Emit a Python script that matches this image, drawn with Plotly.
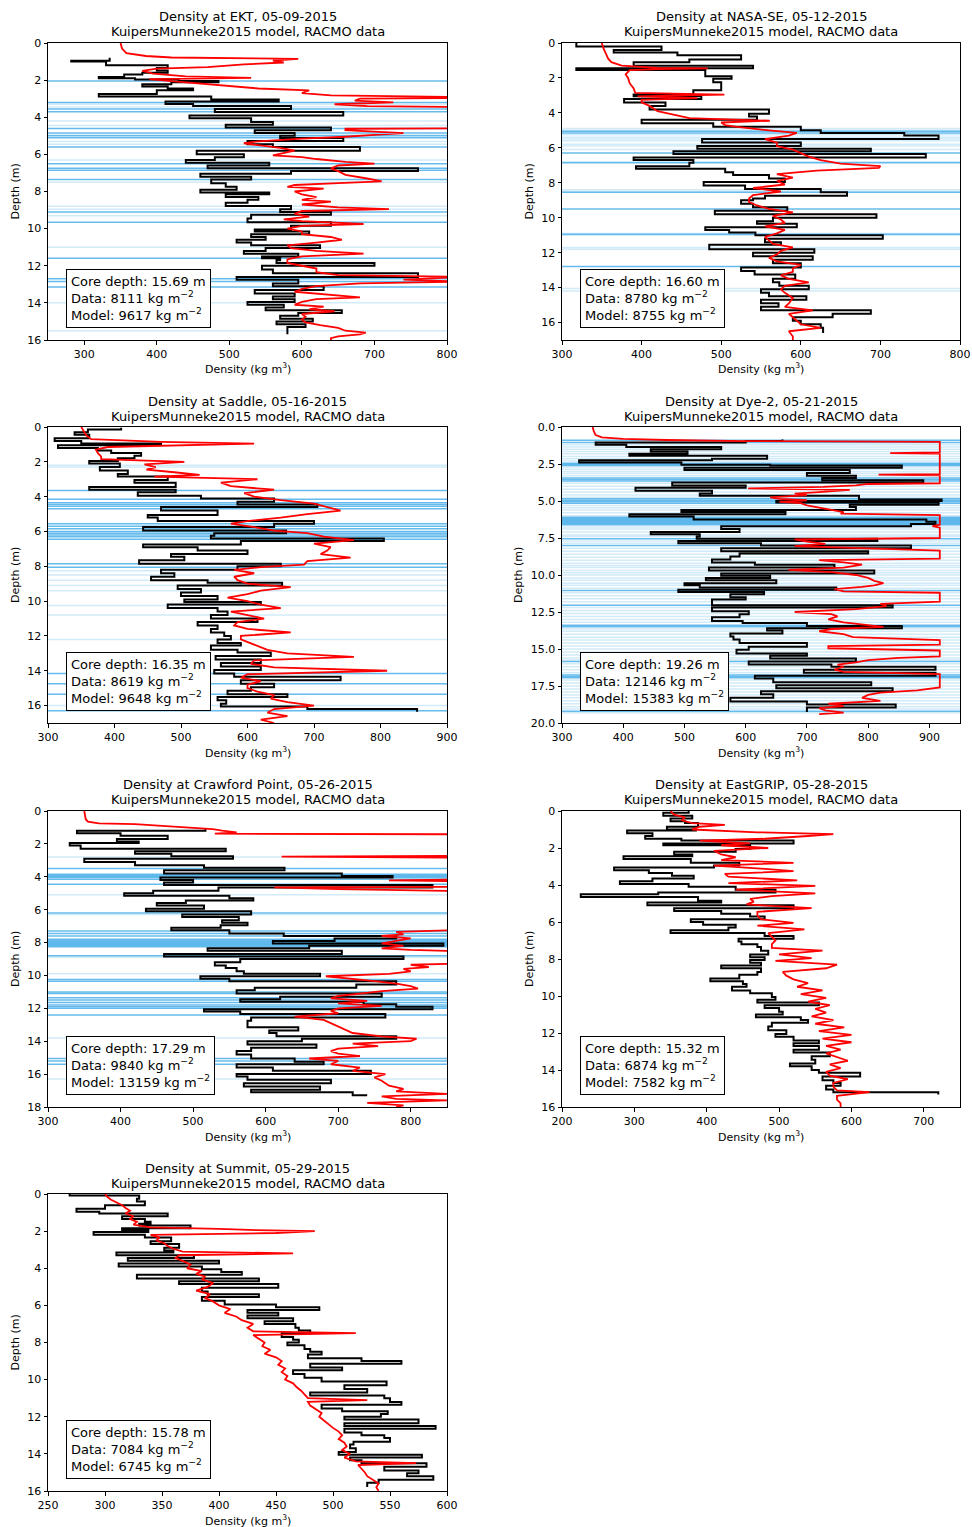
import plotly.graph_objects as go

# ---------------- DATA (depth m, density kg m^-3) ----------------
ekt_data = [(0.80,335),(0.95,282),(1.00,330),(1.10,330),(1.20,415),(1.35,400),(1.48,415),(1.60,380),(1.70,355),(1.83,320),(1.90,370),(1.97,430),(2.05,485),(2.12,420),(2.22,380),(2.35,415),(2.45,450),(2.55,400),(2.75,320),(2.88,475),(3.05,568),(3.15,412),(3.28,450),(3.40,585),(3.55,480),(3.72,657),(3.90,445),(4.05,530),(4.25,560),(4.40,495),(4.55,640),(4.70,535),(4.85,590),(5.00,570),(5.12,657),(5.28,525),(5.45,560),(5.60,680),(5.80,455),(6.00,520),(6.15,480),(6.30,440),(6.45,555),(6.60,470),(6.75,760),(6.90,585),(7.05,460),(7.20,530),(7.35,475),(7.55,495),(7.75,510),(7.90,460),(8.05,555),(8.15,495),(8.30,540),(8.45,525),(8.60,495),(8.78,585),(8.95,570),(9.10,640),(9.25,530),(9.45,525),(9.65,640),(9.85,585),(10.05,535),(10.15,610),(10.30,530),(10.45,550),(10.60,510),(10.75,530),(10.90,625),(11.05,550),(11.20,520),(11.35,595),(11.50,545),(11.60,570),(11.70,565),(11.85,700),(12.00,545),(12.20,560),(12.40,760),(12.60,510),(12.75,595),(12.95,560),(13.10,630),(13.30,535),(13.50,590),(13.65,560),(13.80,590),(13.95,525),(14.10,575),(14.25,550),(14.40,655),(14.55,595),(14.70,570),(14.85,615),(15.00,565),(15.15,605),(15.30,580),(15.45,580),(15.69,580)]
ekt_model = [(0,350),(0.3,352),(0.55,358),(0.7,385),(0.78,420),(0.85,595),(0.95,560),(1.05,575),(1.15,520),(1.3,470),(1.38,400),(1.5,380),(1.65,395),(1.8,440),(1.88,530),(1.95,390),(2.05,420),(2.15,450),(2.25,470),(2.35,510),(2.45,540),(2.55,610),(2.7,600),(2.82,640),(2.87,900),(2.95,900),(3.0,680),(3.1,673),(3.2,726),(3.3,645),(3.4,690),(3.47,900),(4.58,900),(4.62,660),(4.7,660),(4.85,740),(4.95,700),(5.05,660),(5.15,600),(5.3,540),(5.4,520),(5.5,540),(5.65,570),(5.8,590),(5.95,570),(6.05,560),(6.15,600),(6.25,620),(6.4,660),(6.5,700),(6.6,650),(6.75,640),(6.9,650),(7.1,660),(7.3,690),(7.45,710),(7.55,650),(7.65,590),(7.75,580),(7.85,630),(8.0,590),(8.15,600),(8.3,620),(8.45,600),(8.55,640),(8.7,600),(8.85,650),(8.95,720),(9.05,600),(9.2,590),(9.35,610),(9.5,575),(9.6,600),(9.75,685),(9.85,600),(10.0,580),(10.15,600),(10.3,600),(10.45,640),(10.6,655),(10.75,620),(10.9,580),(11.05,585),(11.2,620),(11.35,685),(11.5,600),(11.65,580),(11.85,580),(12.0,600),(12.15,620),(12.35,620),(12.5,650),(12.6,820),(12.75,740),(12.85,820),(12.95,680),(13.1,620),(13.25,600),(13.4,590),(13.55,640),(13.7,680),(13.8,620),(13.95,600),(14.1,590),(14.2,630),(14.35,610),(14.45,645),(14.6,600),(14.75,605),(14.9,600),(15.05,605),(15.2,625),(15.35,650),(15.5,660),(15.6,688),(15.7,680),(15.8,650),(15.9,640),(16.0,640)]
ekt_ice_strong = [2.05,3.2,3.55,3.7,4.6,4.85,5.0,5.1,5.6,6.5,6.75,6.85,7.35,9.1,9.65,11.6,12.7,12.85,13.15]
ekt_ice_faint = [3.3,3.45,4.2,4.45,4.95,5.3,5.45,6.3,7.5,8.8,8.95,9.3,11.0,14.0,15.5]

nase_data = [(0.0,318),(0.2,425),(0.4,365),(0.55,445),(0.7,525),(0.95,460),(1.1,390),(1.3,540),(1.45,318),(1.55,480),(1.9,513),(2.05,490),(2.25,500),(2.4,500),(2.7,465),(2.95,390),(3.05,475),(3.2,378),(3.4,430),(3.6,410),(3.8,560),(4.05,535),(4.2,545),(4.4,400),(4.6,490),(4.8,600),(5.0,625),(5.15,730),(5.3,773),(5.5,476),(5.7,600),(5.9,470),(6.05,688),(6.2,440),(6.35,757),(6.55,390),(6.7,465),(6.85,460),(7.05,393),(7.2,505),(7.4,515),(7.55,560),(7.75,580),(7.95,478),(8.15,530),(8.35,625),(8.55,658),(8.75,555),(8.9,540),(9.0,525),(9.2,540),(9.4,583),(9.6,492),(9.8,695),(10.0,565),(10.2,545),(10.35,595),(10.55,480),(10.7,510),(10.85,543),(11.0,703),(11.2,555),(11.4,575),(11.55,485),(11.8,617),(12.0,540),(12.2,615),(12.4,565),(12.6,600),(12.85,525),(13.05,542),(13.25,593),(13.5,565),(13.7,573),(13.9,610),(14.1,550),(14.3,560),(14.5,607),(14.7,550),(14.9,572),(15.1,550),(15.3,688),(15.5,640),(15.7,590),(15.9,600),(16.1,625),(16.3,628),(16.6,628)]
nase_model = [(0.0,350),(0.3,352),(0.6,355),(0.9,358),(1.1,362),(1.3,375),(1.42,420),(1.45,483),(1.5,420),(1.55,385),(1.8,380),(2.0,383),(2.3,385),(2.6,390),(2.85,392),(2.95,504),(3.05,395),(3.15,470),(3.25,400),(3.4,400),(3.6,410),(3.9,420),(4.1,440),(4.3,460),(4.45,561),(4.55,500),(4.7,505),(4.8,520),(5.0,560),(5.15,595),(5.3,585),(5.5,555),(5.7,570),(5.9,570),(6.1,590),(6.3,600),(6.5,610),(6.7,625),(6.9,650),(7.05,700),(7.15,698),(7.3,620),(7.5,570),(7.7,590),(7.9,570),(8.1,580),(8.3,540),(8.5,575),(8.7,540),(8.9,535),(9.1,535),(9.3,545),(9.5,560),(9.7,590),(9.9,565),(10.1,575),(10.3,580),(10.5,555),(10.7,580),(10.9,570),(11.1,555),(11.3,560),(11.5,565),(11.7,590),(11.9,575),(12.1,570),(12.3,560),(12.5,570),(12.7,600),(12.9,590),(13.1,590),(13.3,575),(13.5,585),(13.7,610),(13.9,580),(14.1,575),(14.3,580),(14.6,590),(14.9,585),(15.1,580),(15.3,615),(15.5,585),(15.7,590),(15.9,595),(16.1,600),(16.3,625),(16.5,585),(16.8,590),(17.0,590)]
nase_ice_strong = [5.05,5.15,6.3,6.85,8.55,9.5,10.95,12.8]
nase_ice_faint = [4.9,5.0,5.25,5.4,5.5,5.6,5.8,5.9,6.1,6.8,8.4,8.5,10.9,11.0,11.7,11.8,14.05,14.2]

saddle_data = [(0.05,410),(0.15,360),(0.3,340),(0.45,362),(0.65,310),(0.8,350),(0.95,470),(1.05,315),(1.2,375),(1.35,395),(1.5,440),(1.65,430),(1.8,405),(1.95,362),(2.1,408),(2.3,378),(2.5,420),(2.7,405),(2.85,480),(3.05,430),(3.2,492),(3.45,362),(3.6,492),(3.75,435),(3.95,530),(4.1,640),(4.3,585),(4.45,705),(4.6,470),(4.8,555),(5.05,450),(5.2,465),(5.4,700),(5.55,640),(5.75,443),(5.95,658),(6.1,550),(6.25,545),(6.4,805),(6.55,590),(6.75,443),(6.9,525),(7.1,600),(7.3,485),(7.45,505),(7.65,437),(7.85,650),(8.0,585),(8.2,470),(8.4,490),(8.6,455),(8.8,540),(8.95,652),(9.1,495),(9.3,530),(9.5,500),(9.7,555),(9.9,505),(10.05,620),(10.2,480),(10.4,555),(10.6,570),(10.8,545),(11.0,615),(11.2,525),(11.4,555),(11.6,545),(11.8,565),(12.0,575),(12.2,555),(12.4,590),(12.55,545),(12.8,585),(12.95,635),(13.15,552),(13.35,620),(13.55,560),(13.75,620),(13.95,550),(14.15,580),(14.35,740),(14.55,590),(14.75,640),(14.95,605),(15.15,570),(15.35,660),(15.5,555),(15.7,568),(15.9,560),(16.05,690),(16.2,855),(16.35,855)]
saddle_model = [(0.0,350),(0.3,355),(0.5,358),(0.7,365),(0.85,470),(0.95,610),(1.05,470),(1.15,390),(1.3,372),(1.5,375),(1.7,380),(1.85,380),(2.0,505),(2.15,445),(2.3,462),(2.45,448),(2.6,490),(2.75,528),(2.85,460),(3.0,615),(3.2,560),(3.4,575),(3.6,640),(3.8,595),(4.0,610),(4.2,650),(4.4,700),(4.6,720),(4.8,740),(5.0,690),(5.2,650),(5.4,600),(5.55,575),(5.75,610),(5.95,640),(6.1,690),(6.3,715),(6.5,760),(6.7,700),(6.9,725),(7.1,720),(7.3,710),(7.5,755),(7.7,690),(7.9,685),(8.05,620),(8.2,580),(8.4,610),(8.6,580),(8.8,585),(9.0,600),(9.2,665),(9.4,620),(9.6,600),(9.8,570),(10.0,600),(10.2,620),(10.4,650),(10.6,575),(10.8,600),(11.0,625),(11.2,585),(11.4,580),(11.6,600),(11.8,665),(12.0,590),(12.2,590),(12.5,610),(12.8,630),(13.0,660),(13.2,760),(13.4,610),(13.6,605),(13.8,640),(14.0,810),(14.2,600),(14.4,590),(14.6,620),(14.8,600),(15.0,600),(15.2,615),(15.4,640),(15.6,635),(15.8,660),(16.0,700),(16.2,640),(16.4,630),(16.6,660),(16.8,620),(17.0,640)]
saddle_ice_strong = [3.65,4.15,4.35,4.45,4.55,4.7,5.55,5.7,5.85,6.0,6.1,6.2,6.3,6.45,7.85,8.05,14.15,14.75,15.35,16.3]
saddle_ice_faint = [2.2,2.3,8.25,8.5,8.8,9.1,9.4,10.25,10.8,12.2,16.0]

dye2_data = [(0.85,660),(0.95,600),(1.05,355),(1.2,405),(1.35,560),(1.5,445),(1.65,505),(1.8,410),(1.95,635),(2.15,545),(2.25,328),(2.4,495),(2.55,640),(2.6,855),(2.75,500),(2.9,770),(3.1,700),(3.3,780),(3.45,725),(3.6,890),(3.75,480),(3.95,600),(4.1,420),(4.3,545),(4.5,525),(4.65,785),(4.9,920),(5.0,650),(5.1,915),(5.25,770),(5.4,780),(5.6,495),(5.75,665),(5.9,410),(6.05,515),(6.25,895),(6.4,910),(6.55,870),(6.7,560),(6.9,590),(7.1,445),(7.25,525),(7.4,520),(7.55,815),(7.7,490),(7.85,625),(8.0,870),(8.2,560),(8.4,800),(8.55,590),(8.75,575),(8.95,545),(9.15,615),(9.3,745),(9.5,540),(9.7,810),(9.9,560),(10.05,640),(10.2,535),(10.35,650),(10.55,500),(10.7,525),(10.85,748),(11.0,490),(11.15,630),(11.3,575),(11.5,600),(11.65,545),(11.85,545),(12.05,840),(12.2,545),(12.45,605),(12.65,590),(12.85,545),(13.1,595),(13.25,700),(13.45,855),(13.6,635),(13.75,660),(13.95,575),(14.15,580),(14.35,590),(14.6,700),(14.85,605),(15.05,585),(15.3,700),(15.45,640),(15.65,780),(15.85,605),(16.05,740),(16.2,910),(16.4,695),(16.6,910),(16.8,615),(17.0,645),(17.25,805),(17.45,650),(17.65,840),(17.85,625),(18.05,645),(18.3,575),(18.55,700),(18.75,845),(18.95,700),(19.26,700)]
dye2_model = [(0,350),(0.3,352),(0.55,355),(0.7,365),(0.8,400),(0.88,470),(0.95,600),(1.0,917),(1.72,917),(1.76,836),(1.8,917),(3.18,917),(3.22,817),(3.26,917),(3.8,917),(3.85,800),(3.95,780),(4.05,727),(4.15,604),(4.25,770),(4.4,720),(4.5,680),(4.6,700),(4.75,640),(4.85,655),(4.95,700),(5.05,655),(5.15,690),(5.3,700),(5.45,720),(5.6,745),(5.75,760),(5.85,755),(5.95,917),(6.6,917),(6.7,905),(6.8,917),(7.5,917),(7.6,680),(7.75,700),(7.9,730),(8.05,680),(8.2,800),(8.35,917),(8.9,917),(9.0,720),(9.15,760),(9.3,790),(9.5,760),(9.65,670),(9.8,740),(10.0,780),(10.2,800),(10.4,810),(10.55,825),(10.7,810),(10.8,790),(10.95,745),(11.1,760),(11.2,917),(11.8,917),(11.95,820),(12.1,830),(12.3,780),(12.5,680),(12.65,740),(12.8,750),(13.0,735),(13.2,760),(13.4,800),(13.5,825),(13.65,740),(13.8,720),(14.0,760),(14.2,775),(14.4,917),(14.7,917),(14.8,735),(14.95,735),(15.1,917),(15.5,917),(15.6,850),(15.75,800),(15.9,780),(16.05,750),(16.2,760),(16.4,745),(16.55,760),(16.7,917),(17.6,917),(17.8,880),(17.95,820),(18.1,800),(18.3,790),(18.5,820),(18.7,735),(18.85,760),(19.0,720),(19.15,730),(19.3,760),(19.4,720)]
dye2_ice_strong = [0.9,1.05,2.45,2.5,2.55,2.6,3.45,3.55,3.65,4.85,4.95,5.05,5.15,6.1,6.15,6.2,6.25,6.3,6.35,6.4,6.45,6.5,6.55,6.6,7.55,8.0,11.05,12.05,13.4,13.5,15.85,16.75,16.85,16.95,19.2]
dye2_ice_faint = [1.2,1.35,1.5,1.65,1.8,2.0,2.15,2.3,2.7,2.85,3.0,3.15,3.3,3.8,4.0,4.2,4.4,4.6,4.75,5.3,5.45,5.6,5.8,6.0,6.75,6.9,7.1,7.3,7.4,7.7,7.85,8.2,8.4,8.6,8.8,9.0,9.2,9.35,9.5,9.7,9.85,10.0,10.2,10.35,10.55,10.7,10.9,11.2,11.4,11.6,11.8,12.2,12.4,12.6,12.8,13.0,13.2,13.65,13.8,14.0,14.2,14.4,14.6,14.8,15.0,15.2,15.4,15.6,15.75,16.0,16.2,16.4,16.6,17.1,17.3,17.5,17.7,17.9,18.1,18.3,18.5,18.7,18.9,19.05,19.3]

crawford_data = [(1.05,517),(1.2,340),(1.35,400),(1.5,465),(1.7,395),(1.85,425),(1.95,330),(2.1,345),(2.3,545),(2.45,420),(2.6,470),(2.75,555),(2.9,350),(3.1,420),(3.3,515),(3.45,626),(3.6,460),(3.8,705),(3.95,775),(4.05,455),(4.2,500),(4.35,460),(4.5,830),(4.65,535),(4.85,445),(5.0,405),(5.15,550),(5.3,583),(5.45,490),(5.6,450),(5.75,515),(5.95,435),(6.1,580),(6.3,485),(6.45,563),(6.65,540),(6.8,575),(6.95,538),(7.1,470),(7.25,550),(7.45,625),(7.6,780),(7.75,695),(7.9,610),(8.05,845),(8.2,660),(8.35,520),(8.5,705),(8.7,460),(8.85,790),(9.0,565),(9.2,530),(9.4,545),(9.55,560),(9.75,570),(9.9,675),(10.05,510),(10.2,550),(10.35,780),(10.55,725),(10.75,585),(10.9,560),(11.1,760),(11.3,620),(11.45,565),(11.6,735),(11.75,780),(11.9,830),(12.05,515),(12.2,565),(12.35,765),(12.55,580),(12.75,575),(12.95,575),(13.15,645),(13.35,605),(13.5,615),(13.7,780),(13.85,650),(14.0,575),(14.2,670),(14.4,580),(14.6,560),(14.8,580),(15.05,640),(15.25,680),(15.4,560),(15.6,610),(15.8,745),(16.0,560),(16.15,575),(16.35,690),(16.55,570),(16.75,675),(16.95,580),(17.1,720),(17.29,740)]
crawford_model = [(0,350),(0.5,352),(0.65,355),(0.75,370),(0.8,420),(0.85,438),(0.95,470),(1.05,520),(1.1,527),(1.2,540),(1.3,560),(1.38,530),(1.42,900),(2.72,900),(2.78,622),(2.85,900),(4.15,900),(4.22,770),(4.3,900),(4.6,900),(4.65,612),(4.75,700),(4.9,900),(7.2,900),(7.28,840),(7.35,780),(7.5,790),(7.6,760),(7.75,800),(7.9,780),(8.05,760),(8.2,790),(8.35,760),(8.45,800),(8.55,900),(9.25,900),(9.35,800),(9.5,825),(9.6,790),(9.75,800),(9.9,770),(10.05,683),(10.2,720),(10.35,750),(10.5,780),(10.65,800),(10.8,810),(10.95,760),(11.1,730),(11.25,700),(11.4,690),(11.55,740),(11.7,700),(11.85,760),(12.0,700),(12.15,690),(12.3,700),(12.5,640),(12.7,680),(12.9,690),(13.1,700),(13.3,710),(13.5,720),(13.7,760),(13.85,808),(14.0,800),(14.15,720),(14.3,755),(14.45,700),(14.6,690),(14.75,700),(14.9,730),(15.05,660),(15.2,700),(15.4,690),(15.6,730),(15.8,720),(16.0,765),(16.2,750),(16.4,760),(16.55,765),(16.7,770),(16.9,790),(17.05,780),(17.2,850),(17.35,760),(17.5,780),(17.6,850),(17.75,740),(17.9,790),(18.0,780)]
crawford_ice_strong = [3.5,3.85,3.9,3.95,4.0,4.05,4.15,4.45,6.2,7.3,7.45,7.6,7.8,7.85,7.9,7.95,8.0,8.05,8.1,8.15,8.2,8.25,8.8,10.25,10.35,11.0,11.1,11.35,11.5,11.65,11.8,11.9,12.0,12.4,15.05,15.2,15.4]
crawford_ice_faint = [2.8,5.1,6.3,8.9,9.9,13.8,16.3]

egrip_data = [(0.0,375),(0.1,340),(0.25,380),(0.4,350),(0.55,370),(0.65,388),(0.85,345),(1.0,385),(1.05,290),(1.2,325),(1.35,315),(1.5,365),(1.6,520),(1.75,340),(1.85,460),(2.05,440),(2.2,355),(2.35,380),(2.45,285),(2.6,378),(2.8,445),(2.95,410),(3.05,272),(3.2,320),(3.35,352),(3.5,382),(3.65,325),(3.8,280),(3.95,375),(4.1,440),(4.25,495),(4.4,333),(4.5,226),(4.65,388),(4.85,420),(4.95,318),(5.1,520),(5.25,355),(5.4,420),(5.55,460),(5.7,480),(5.85,378),(6.0,395),(6.15,440),(6.3,430),(6.45,350),(6.6,480),(6.75,520),(6.9,444),(7.05,448),(7.2,470),(7.35,475),(7.55,485),(7.75,460),(7.9,480),(8.05,460),(8.2,475),(8.35,420),(8.5,475),(8.7,470),(8.85,445),(9.05,405),(9.2,450),(9.35,455),(9.5,435),(9.7,460),(9.85,490),(10.05,495),(10.2,470),(10.35,555),(10.5,480),(10.65,500),(10.85,505),(11.0,468),(11.15,530),(11.3,540),(11.45,490),(11.65,485),(11.85,510),(12.05,495),(12.2,520),(12.4,555),(12.55,520),(12.7,555),(12.9,520),(13.05,570),(13.25,545),(13.45,550),(13.65,515),(13.8,545),(14.0,555),(14.15,612),(14.35,560),(14.55,575),(14.7,585),(14.85,565),(15.05,575),(15.2,720),(15.32,720)]
egrip_model = [(0.0,350),(0.2,355),(0.35,370),(0.5,365),(0.65,380),(0.75,425),(0.85,390),(1.0,380),(1.15,470),(1.25,575),(1.35,540),(1.5,480),(1.6,390),(1.75,460),(1.85,420),(2.0,485),(2.15,410),(2.35,420),(2.5,440),(2.65,420),(2.8,520),(2.95,410),(3.1,470),(3.25,520),(3.4,425),(3.55,430),(3.75,525),(3.9,430),(4.05,550),(4.25,440),(4.45,550),(4.6,490),(4.75,460),(4.9,465),(5.05,455),(5.25,545),(5.45,470),(5.65,470),(5.85,475),(6.05,520),(6.2,470),(6.4,535),(6.6,485),(6.8,490),(7.0,495),(7.2,490),(7.4,490),(7.55,560),(7.75,500),(7.95,545),(8.1,495),(8.3,580),(8.5,565),(8.7,505),(8.9,510),(9.1,520),(9.3,540),(9.5,525),(9.7,560),(9.9,530),(10.1,565),(10.3,540),(10.5,570),(10.7,550),(10.9,565),(11.1,545),(11.3,575),(11.5,550),(11.7,590),(11.9,555),(12.1,600),(12.3,560),(12.5,600),(12.7,565),(12.9,585),(13.1,565),(13.3,580),(13.5,595),(13.7,570),(13.9,585),(14.1,565),(14.3,570),(14.5,595),(14.7,575),(14.9,575),(15.1,580),(15.2,625),(15.4,580),(15.6,580),(15.8,585),(16.0,585)]

summit_data = [(0.0,269),(0.08,330),(0.25,328),(0.4,335),(0.6,300),(0.8,275),(0.95,295),(1.05,355),(1.2,315),(1.35,335),(1.5,340),(1.6,330),(1.7,375),(1.85,315),(1.95,338),(2.05,290),(2.2,335),(2.35,358),(2.55,340),(2.7,365),(2.9,352),(3.05,360),(3.15,310),(3.3,378),(3.45,320),(3.6,400),(3.75,312),(3.9,385),(4.05,402),(4.2,420),(4.35,328),(4.55,435),(4.7,365),(4.85,452),(5.05,385),(5.25,390),(5.4,435),(5.55,385),(5.75,405),(5.95,450),(6.1,488),(6.25,425),(6.4,452),(6.55,425),(6.7,465),(6.85,440),(7.0,467),(7.2,470),(7.35,480),(7.5,455),(7.7,465),(7.85,470),(8.0,460),(8.15,475),(8.35,480),(8.5,490),(8.65,478),(8.85,525),(9.0,560),(9.15,480),(9.35,508),(9.5,465),(9.7,475),(9.9,490),(10.1,547),(10.3,510),(10.5,530),(10.7,480),(10.85,545),(11.0,550),(11.2,560),(11.35,490),(11.55,508),(11.7,548),(11.85,542),(12.0,510),(12.15,575),(12.35,510),(12.5,590),(12.65,510),(12.85,525),(13.0,545),(13.15,550),(13.35,518),(13.5,515),(13.7,520),(13.9,505),(14.05,578),(14.2,515),(14.35,525),(14.5,582),(14.7,545),(14.9,575),(15.05,565),(15.2,588),(15.4,540),(15.55,530),(15.78,530)]
summit_model = [(0.0,300),(0.15,302),(0.3,305),(0.45,310),(0.6,315),(0.75,318),(0.9,322),(1.05,318),(1.2,325),(1.35,322),(1.5,328),(1.65,325),(1.8,340),(1.88,400),(1.95,433),(2.0,484),(2.1,450),(2.2,340),(2.35,348),(2.5,345),(2.65,352),(2.8,355),(2.95,360),(3.1,368),(3.2,465),(3.3,365),(3.45,362),(3.6,368),(3.8,375),(4.0,372),(4.15,385),(4.3,380),(4.45,388),(4.6,385),(4.8,395),(5.0,390),(5.2,380),(5.4,392),(5.6,388),(5.8,395),(6.0,400),(6.2,410),(6.4,405),(6.6,415),(6.8,420),(7.0,430),(7.2,425),(7.4,430),(7.5,520),(7.6,430),(7.8,435),(8.0,440),(8.2,438),(8.4,445),(8.6,440),(8.8,450),(9.0,455),(9.2,452),(9.4,458),(9.6,455),(9.8,460),(10.0,458),(10.2,465),(10.4,468),(10.6,472),(10.8,475),(11.0,478),(11.1,530),(11.2,478),(11.4,480),(11.6,485),(11.8,490),(12.0,488),(12.2,492),(12.4,495),(12.6,500),(12.8,505),(13.0,508),(13.2,505),(13.4,510),(13.6,512),(13.8,508),(14.0,515),(14.2,510),(14.4,520),(14.5,573),(14.6,522),(14.8,525),(15.0,528),(15.2,530),(15.4,535),(15.6,540),(15.8,538),(16.0,540)]

sites = ["EKT", "NASA-SE", "Saddle", "Dye-2", "Crawford Point", "EastGRIP", "Summit"]
dates = ["05-09-2015", "05-12-2015", "05-16-2015", "05-21-2015", "05-26-2015", "05-28-2015", "05-29-2015"]
core_depths = [15.69, 16.60, 16.35, 19.26, 17.29, 15.32, 15.78]
data_mass = [8111, 8780, 8619, 12146, 9840, 6874, 7084]
model_mass = [9617, 8755, 9648, 15383, 13159, 7582, 6745]

# ---------------- LAYOUT CONFIG ----------------
W, H = 972, 1527
col_px = [(48, 447), (562, 960)]
row_px = [(43, 340), (427, 723), (811, 1107), (1194, 1491)]
panels = [
    dict(data=ekt_data, model=ekt_model, strong=ekt_ice_strong, faint=ekt_ice_faint, xr=[250, 800], xd=100, yr=16, yd=2, fmt=None),
    dict(data=nase_data, model=nase_model, strong=nase_ice_strong, faint=nase_ice_faint, xr=[300, 800], xd=100, yr=17, yd=2, fmt=None),
    dict(data=saddle_data, model=saddle_model, strong=saddle_ice_strong, faint=saddle_ice_faint, xr=[300, 900], xd=100, yr=17, yd=2, fmt=None),
    dict(data=dye2_data, model=dye2_model, strong=dye2_ice_strong, faint=dye2_ice_faint, xr=[300, 950], xd=100, yr=20, yd=2.5, fmt=".1f"),
    dict(data=crawford_data, model=crawford_model, strong=crawford_ice_strong, faint=crawford_ice_faint, xr=[300, 850], xd=100, yr=18, yd=2, fmt=None),
    dict(data=egrip_data, model=egrip_model, strong=[], faint=[], xr=[200, 750], xd=100, yr=16, yd=2, fmt=None),
    dict(data=summit_data, model=summit_model, strong=[], faint=[], xr=[250, 600], xd=50, yr=16, yd=2, fmt=None),
]

FONT = "DejaVu Sans"
ICE_STRONG = "rgba(93,183,235,0.95)"
ICE_FAINT = "rgba(93,183,235,0.28)"

fig = go.Figure()
layout = dict(width=W, height=H, margin=dict(l=0, r=0, t=0, b=0, autoexpand=False),
              paper_bgcolor="white", plot_bgcolor="white", showlegend=False,
              font=dict(family=FONT, color="black"))
shapes, annotations = [], []

for i, p in enumerate(panels):
    n = i + 1
    r, c = divmod(i, 2)
    x0p, x1p = col_px[c]
    y0p, y1p = row_px[r]
    xs = "" if n == 1 else str(n)
    xname, yname = "x" + xs, "y" + xs
    common = dict(showgrid=False, zeroline=False, showline=True, mirror=True, automargin=False,
                  linecolor="black", linewidth=1, ticks="outside", ticklen=3.5,
                  tickwidth=0.8, tickcolor="black", tickfont=dict(size=11, family=FONT))
    layout["xaxis" + xs] = dict(domain=[x0p / W, x1p / W], range=p["xr"], dtick=p["xd"],
                                tick0=0, anchor=yname, **common)
    ya = dict(domain=[1 - y1p / H, 1 - y0p / H], range=[p["yr"], 0], dtick=p["yd"],
              tick0=0, anchor=xname, **common)
    if p["fmt"]:
        ya["tickformat"] = p["fmt"]
    layout["yaxis" + xs] = ya

    for d in p["faint"]:
        shapes.append(dict(type="line", xref=xname + " domain", yref=yname, x0=0, x1=1,
                           y0=d, y1=d, line=dict(color=ICE_FAINT, width=1.5), layer="below"))
    for d in p["strong"]:
        shapes.append(dict(type="line", xref=xname + " domain", yref=yname, x0=0, x1=1,
                           y0=d, y1=d, line=dict(color=ICE_STRONG, width=1.5), layer="below"))

    dd = [a for a, b in p["data"]]
    dr = [b for a, b in p["data"]]
    fig.add_trace(go.Scatter(x=dr, y=dd, mode="lines", line=dict(color="black", width=2, shape="vh"),
                             xaxis=xname, yaxis=yname, hoverinfo="skip"))
    md = [a for a, b in p["model"]]
    mr = [b for a, b in p["model"]]
    fig.add_trace(go.Scatter(x=mr, y=md, mode="lines", line=dict(color="red", width=1.8),
                             xaxis=xname, yaxis=yname, hoverinfo="skip"))

    dom_x, dom_y = xname + " domain", yname + " domain"
    annotations.append(dict(text=f"Density at {sites[i]}, {dates[i]}", xref=dom_x, yref=dom_y,
                            x=0.5, y=1, yshift=26, xanchor="center", yanchor="middle",
                            showarrow=False, font=dict(size=13, family=FONT)))
    annotations.append(dict(text="KuipersMunneke2015 model, RACMO data", xref=dom_x, yref=dom_y,
                            x=0.5, y=1, yshift=11, xanchor="center", yanchor="middle",
                            showarrow=False, font=dict(size=13, family=FONT)))
    annotations.append(dict(text="Density (kg m<sup>3</sup>)", xref=dom_x, yref=dom_y,
                            x=0.5, y=0, yshift=-29, xanchor="center", yanchor="middle",
                            showarrow=False, font=dict(size=11, family=FONT)))
    annotations.append(dict(text="Depth (m)", xref=dom_x, yref=dom_y, textangle=-90,
                            x=0, y=0.5, xshift=(-44 if p["fmt"] else -33), xanchor="center",
                            yanchor="middle", showarrow=False, font=dict(size=11, family=FONT)))
    box = (f"Core depth: {core_depths[i]:.2f} m<br>Data: {data_mass[i]} kg m<sup>\u22122</sup>"
           f"<br>Model: {model_mass[i]} kg m<sup>\u22122</sup>")
    annotations.append(dict(text=box, xref=dom_x, yref=dom_y, x=0.045, y=0.04,
                            xanchor="left", yanchor="bottom", align="left", showarrow=False,
                            bgcolor="white", bordercolor="black", borderwidth=1, borderpad=4,
                            font=dict(size=13, family=FONT)))

layout["shapes"] = shapes
layout["annotations"] = annotations
fig.update_layout(**layout)
fig.write_html("out.html", config={"displayModeBar": False},
               post_script="document.body.style.margin='0';document.body.style.overflow='hidden';")
